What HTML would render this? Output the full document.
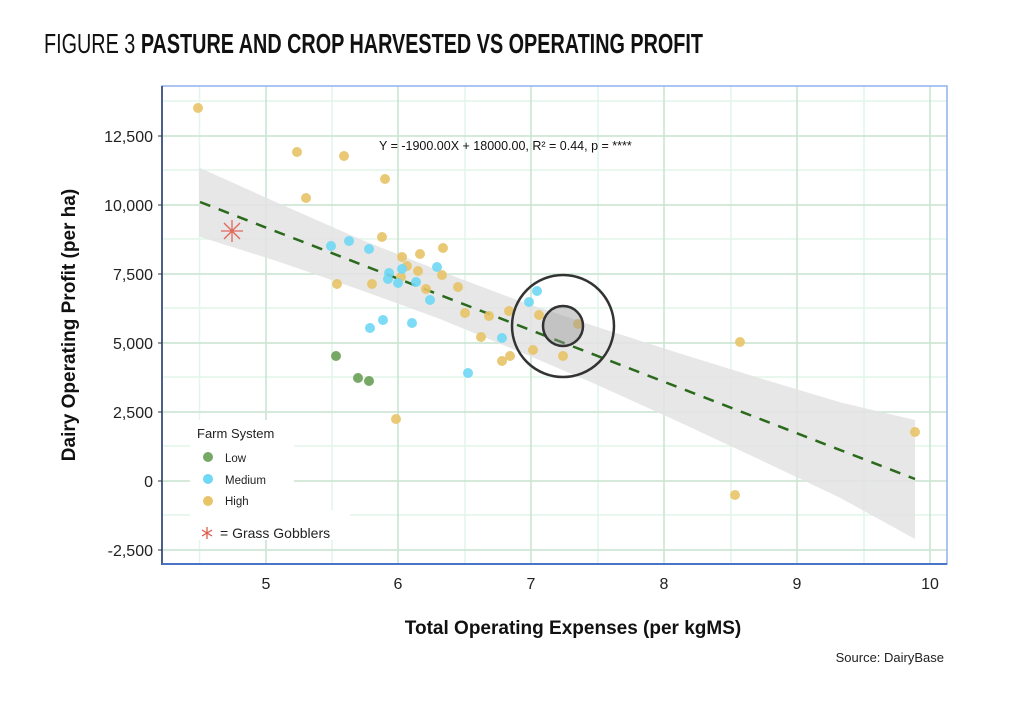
<!DOCTYPE html>
<html><head><meta charset="utf-8"><style>
html,body{margin:0;padding:0;background:#fff;}
svg{display:block;font-family:"Liberation Sans",sans-serif;}
</style></head><body>
<svg width="1024" height="703" viewBox="0 0 1024 703" xmlns="http://www.w3.org/2000/svg">
<text x="44" y="53" font-size="28" textLength="659" lengthAdjust="spacingAndGlyphs" fill="#111"><tspan>FIGURE 3 </tspan><tspan font-weight="bold">PASTURE AND CROP HARVESTED VS OPERATING PROFIT</tspan></text>
<g stroke="#e2f6e9" stroke-width="1.5">
<line x1="199.5" y1="86" x2="199.5" y2="564"/><line x1="332" y1="86" x2="332" y2="564"/><line x1="465" y1="86" x2="465" y2="564"/><line x1="598" y1="86" x2="598" y2="564"/><line x1="731" y1="86" x2="731" y2="564"/><line x1="864" y1="86" x2="864" y2="564"/>
<line x1="162" y1="101" x2="947" y2="101"/><line x1="162" y1="170" x2="947" y2="170"/><line x1="162" y1="239" x2="947" y2="239"/><line x1="162" y1="308" x2="947" y2="308"/><line x1="162" y1="377" x2="947" y2="377"/><line x1="162" y1="446" x2="947" y2="446"/><line x1="162" y1="515" x2="947" y2="515"/>
</g>
<g stroke="#c9e3d1" stroke-width="1.5">
<line x1="266" y1="86" x2="266" y2="564"/><line x1="398" y1="86" x2="398" y2="564"/><line x1="531" y1="86" x2="531" y2="564"/><line x1="664" y1="86" x2="664" y2="564"/><line x1="797" y1="86" x2="797" y2="564"/><line x1="930" y1="86" x2="930" y2="564"/>
<line x1="162" y1="136" x2="947" y2="136"/><line x1="162" y1="205" x2="947" y2="205"/><line x1="162" y1="274" x2="947" y2="274"/><line x1="162" y1="343" x2="947" y2="343"/><line x1="162" y1="412" x2="947" y2="412"/><line x1="162" y1="481" x2="947" y2="481"/><line x1="162" y1="550" x2="947" y2="550"/>
</g>
<polygon points="199,167.5 280,203.9 360,239.1 440,271 520,301.1 600,327.9 680,353.5 760,378.2 840,402.2 915,420 915,539 840,497.8 760,459.8 680,422.5 600,386.1 520,351.9 440,319 360,289.9 280,262.1 199,236.5" fill="#e3e3e3" opacity="0.85"/>
<line x1="200" y1="202" x2="915" y2="479" stroke="#2b6a1c" stroke-width="2.5" stroke-dasharray="11,9"/>
<text x="379" y="150" font-size="12.5" fill="#111">Y = -1900.00X + 18000.00, R² = 0.44, p = ****</text>
<g fill="#e8c468" opacity="0.9">
<circle cx="198" cy="108" r="5"/><circle cx="297" cy="152" r="5"/><circle cx="344" cy="156" r="5"/><circle cx="385" cy="179" r="5"/><circle cx="306" cy="198" r="5"/><circle cx="382" cy="237" r="5"/><circle cx="443" cy="248" r="5"/><circle cx="420" cy="254" r="5"/><circle cx="402" cy="257" r="5"/><circle cx="407" cy="266" r="5"/><circle cx="418" cy="271" r="5"/><circle cx="401" cy="277" r="5"/><circle cx="442" cy="275" r="5"/><circle cx="337" cy="284" r="5"/><circle cx="372" cy="284" r="5"/><circle cx="426" cy="289" r="5"/><circle cx="458" cy="287" r="5"/><circle cx="465" cy="313" r="5"/><circle cx="489" cy="316" r="5"/><circle cx="509" cy="311" r="5"/><circle cx="539" cy="315" r="5"/><circle cx="578" cy="324" r="5"/><circle cx="481" cy="337" r="5"/><circle cx="502" cy="361" r="5"/><circle cx="510" cy="356" r="5"/><circle cx="533" cy="350" r="5"/><circle cx="563" cy="356" r="5"/><circle cx="396" cy="419" r="5"/><circle cx="740" cy="342" r="5"/><circle cx="735" cy="495" r="5"/><circle cx="915" cy="432" r="5"/>
</g>
<g fill="#6fd8f5" opacity="0.9">
<circle cx="331" cy="246" r="5"/><circle cx="349" cy="241" r="5"/><circle cx="369" cy="249" r="5"/><circle cx="389" cy="273" r="5"/><circle cx="388" cy="279" r="5"/><circle cx="402" cy="269" r="5"/><circle cx="398" cy="283" r="5"/><circle cx="416" cy="282" r="5"/><circle cx="437" cy="267" r="5"/><circle cx="430" cy="300" r="5"/><circle cx="370" cy="328" r="5"/><circle cx="383" cy="320" r="5"/><circle cx="412" cy="323" r="5"/><circle cx="468" cy="373" r="5"/><circle cx="502" cy="338" r="5"/><circle cx="529" cy="302" r="5"/><circle cx="537" cy="291" r="5"/>
</g>
<g fill="#78a866"><circle cx="336" cy="356" r="5"/><circle cx="358" cy="378" r="5"/><circle cx="369" cy="381" r="5"/></g>
<circle cx="563" cy="326" r="51" fill="none" stroke="#333" stroke-width="2.5"/>
<circle cx="563" cy="326" r="20" fill="rgba(150,150,150,0.45)" stroke="#333" stroke-width="2.5"/>
<g stroke="#e05a4a" stroke-width="1.3" opacity="0.9"><line x1="232" y1="220" x2="232" y2="242"/><line x1="221" y1="231" x2="243" y2="231"/><line x1="224" y1="223" x2="240" y2="239"/><line x1="240" y1="223" x2="224" y2="239"/></g>
<rect x="190" y="420" width="104" height="90" fill="#fff"/>
<rect x="190" y="510" width="160" height="30" fill="#fff"/>
<text x="197" y="438" font-size="13" fill="#222">Farm System</text>
<circle cx="208" cy="457" r="5" fill="#78a866"/><text x="225" y="462" font-size="11.5" fill="#222">Low</text>
<circle cx="208" cy="479" r="5" fill="#6fd8f5"/><text x="225" y="484" font-size="11.5" fill="#222">Medium</text>
<circle cx="208" cy="501" r="5" fill="#e8c468"/><text x="225" y="505" font-size="11.5" fill="#222">High</text>
<g stroke="#e05a4a" stroke-width="1.3"><line x1="207" y1="527" x2="207" y2="539"/><line x1="202" y1="530" x2="212" y2="536"/><line x1="212" y1="530" x2="202" y2="536"/></g>
<text x="220" y="538" font-size="14" fill="#222">= Grass Gobblers</text>
<rect x="162" y="86" width="785" height="478" fill="none" stroke="#8fb0ee" stroke-width="1.5"/>
<line x1="162" y1="86" x2="162" y2="565" stroke="#4a5f8a" stroke-width="2"/>
<line x1="162" y1="564" x2="947" y2="564" stroke="#4a74c8" stroke-width="2"/>
<g stroke="#333" stroke-width="1"><line x1="158" y1="136" x2="162" y2="136"/><line x1="158" y1="205" x2="162" y2="205"/><line x1="158" y1="274" x2="162" y2="274"/><line x1="158" y1="343" x2="162" y2="343"/><line x1="158" y1="412" x2="162" y2="412"/><line x1="158" y1="481" x2="162" y2="481"/><line x1="158" y1="550" x2="162" y2="550"/></g>
<g font-size="16" fill="#222" text-anchor="end">
<text x="153" y="142">12,500</text><text x="153" y="211">10,000</text><text x="153" y="280">7,500</text><text x="153" y="349">5,000</text><text x="153" y="418">2,500</text><text x="153" y="487">0</text><text x="153" y="556">-2,500</text>
</g>
<g font-size="16" fill="#222" text-anchor="middle">
<text x="266" y="589">5</text><text x="398" y="589">6</text><text x="531" y="589">7</text><text x="664" y="589">8</text><text x="797" y="589">9</text><text x="930" y="589">10</text>
</g>
<text x="573" y="634" font-size="19" font-weight="bold" text-anchor="middle" fill="#111">Total Operating Expenses (per kgMS)</text>
<text transform="translate(75,325) rotate(-90)" font-size="19" font-weight="bold" text-anchor="middle" fill="#111">Dairy Operating Profit (per ha)</text>
<text x="944" y="662" font-size="13" text-anchor="end" fill="#222">Source: DairyBase</text>
</svg>
</body></html>
